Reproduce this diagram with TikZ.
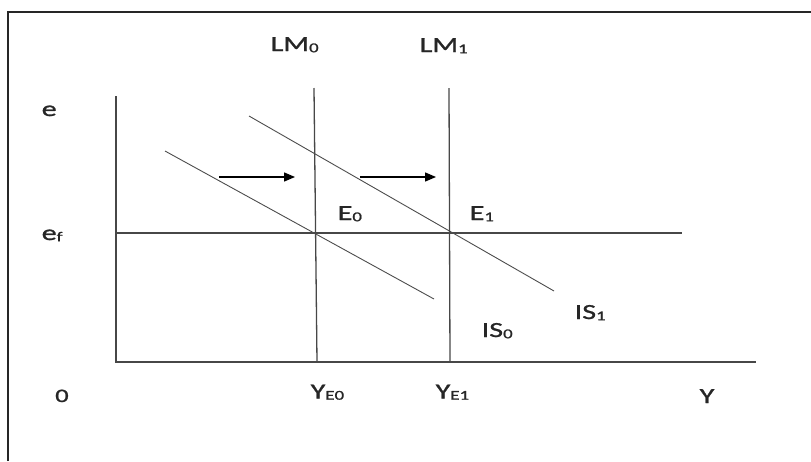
\documentclass[tikz,border=0pt]{standalone}
\usepackage{fontspec}
\setmainfont{Carlito}[FakeStretch=1.4,FakeBold=1.2,Numbers=Lining]
\usetikzlibrary{arrows.meta}
\newcommand\subx[1]{\raisebox{-1.2pt}{\fontsize{13.5}{14}\selectfont #1}}
\tikzset{
  frameline/.style={line width=1.3pt, black!85},
  axisline/.style={line width=1.3pt, black!72},
  curve/.style={line width=0.9pt, black!70},
  shift arrow/.style={line width=1.3pt, black, -{Triangle[length=11pt,width=9pt]}},
  lbl/.style={inner sep=0pt, anchor=base west, font=\fontsize{21.5}{24}\selectfont, text=black!85}
}
\begin{document}
\begin{tikzpicture}[x=1pt,y=-1pt]
\useasboundingbox (0,0) rectangle (811,461);
% frame
\draw[frameline] (8,461) -- (8,12) -- (811,12);
% coordinates
\coordinate (orig) at (116,362);
\coordinate (ytop) at (116,96);
\coordinate (xend) at (756,362);
\coordinate (lm0t) at (314,88);
\coordinate (lm0b) at (317,362);
\coordinate (lm1t) at (449,88);
\coordinate (lm1b) at (450,362);
\coordinate (efs) at (116,233);
\coordinate (efe) at (682,233);
\coordinate (is0s) at (165,151);
\coordinate (is0e) at (434,299);
\coordinate (is1s) at (249,116);
\coordinate (is1e) at (554,291);
\coordinate (a1s) at (219,177);
\coordinate (a1e) at (295,177);
\coordinate (a2s) at (360,177);
\coordinate (a2e) at (436,177);
% axes
\draw[axisline] (ytop) -- (orig) -- (xend);
% lines
\draw[axisline] (lm0t) -- (lm0b);
\draw[axisline] (lm1t) -- (lm1b);
\draw[axisline] (efs) -- (efe);
\draw[curve] (is0s) -- (is0e);
\draw[curve] (is1s) -- (is1e);
% arrows
\draw[shift arrow] (a1s) -- (a1e);
\draw[shift arrow] (a2s) -- (a2e);
% labels
\node[lbl] (le) at (41.5,116) {e};
\node[lbl] (lef) at (41.5,240) {e\subx{f}};
\node[lbl] (llm0) at (270.5,51) {LM\subx{0}};
\node[lbl] (llm1) at (419.5,52) {LM\subx{1}};
\node[lbl] (le0) at (337.5,220) {E\subx{0}};
\node[lbl] (le1) at (469.5,220) {E\subx{1}};
\node[lbl] (lis0) at (481.5,337) {IS\subx{0}};
\node[lbl] (lis1) at (574.5,319) {IS\subx{1}};
\node[lbl, font=\fontsize{19}{21}\selectfont] (lo) at (55,402) {0};
\node[lbl] (lye0) at (310.5,398.5) {Y\subx{E0}};
\node[lbl] (lye1) at (435.5,398.5) {Y\subx{E1}};
\node[lbl] (ly) at (699.5,403) {Y};
\end{tikzpicture}
\end{document}
